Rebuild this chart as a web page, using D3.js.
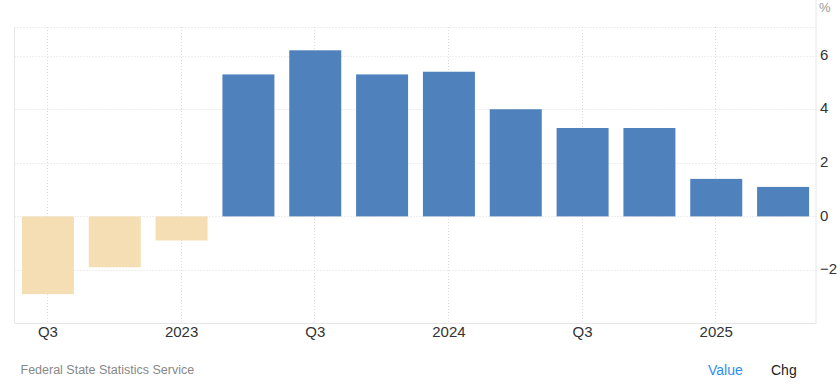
<!DOCTYPE html>
<html>
<head>
<meta charset="utf-8">
<script src="https://cdn.jsdelivr.net/npm/d3@7"></script>
<style>
  html, body { margin: 0; padding: 0; background: #fff; }
  svg { display: block; font-family: "Liberation Sans", Arial, sans-serif; }
</style>
</head>
<body>
<svg id="chart" width="840" height="387"></svg>
<script>
const categories = ["Q3 2022","Q4 2022","Q1 2023","Q2 2023","Q3 2023","Q4 2023","Q1 2024","Q2 2024","Q3 2024","Q4 2024","Q1 2025","Q2 2025"];
const values = [-2.9, -1.9, -0.9, 5.3, 6.2, 5.3, 5.4, 4.0, 3.3, 3.3, 1.4, 1.1];
const xTickLabels = ["Q3", "", "2023", "", "Q3", "", "2024", "", "Q3", "", "2025", ""];
const yTicks = [-2, 0, 2, 4, 6];
const unitLabel = "%";
const sourceText = "Federal State Statistics Service";
const toggleLabels = ["Value", "Chg"];

(function () {
const svg = d3.select("#chart");
const pL = 14.5, pR = 816.5, pT = 27, pB = 323;

const x = d3.scaleBand().domain(categories).range([pL, pR]).paddingInner(0.222).paddingOuter(0.111);
const y = d3.scaleLinear().domain([-3.98, 7.07]).range([pB, pT]);

const g = svg.append("g");

// horizontal gridlines
g.selectAll("line.hg").data(yTicks.concat([7.07])).join("line")
  .attr("x1", pL).attr("x2", pR)
  .attr("y1", d => Math.round(y(d)) + 0.5).attr("y2", d => Math.round(y(d)) + 0.5)
  .attr("stroke", "#dcdcdc").attr("stroke-dasharray", "1,2");

// vertical gridlines at labeled ticks
const tickCats = categories.filter((c, i) => xTickLabels[i] !== "");
g.selectAll("line.vg").data(tickCats).join("line")
  .attr("x1", d => Math.round(x(d) + x.bandwidth() / 2) - 0.5)
  .attr("x2", d => Math.round(x(d) + x.bandwidth() / 2) - 0.5)
  .attr("y1", pT).attr("y2", pB)
  .attr("stroke", "#dcdcdc").attr("stroke-dasharray", "1,2");

// bars
g.selectAll("rect.bar").data(categories).join("rect")
  .attr("x", d => x(d))
  .attr("width", x.bandwidth())
  .attr("y", (d, i) => y(Math.max(0, values[i])))
  .attr("height", (d, i) => Math.abs(y(values[i]) - y(0)))
  .attr("fill", (d, i) => values[i] < 0 ? "#f5deb3" : "#4f81bd");

// frame lines
g.append("line").attr("x1", pL).attr("x2", pL).attr("y1", pT).attr("y2", pB)
  .attr("stroke", "#e6e6e6");
g.append("line").attr("x1", pR - 0.5).attr("x2", pR - 0.5).attr("y1", 0).attr("y2", pB)
  .attr("stroke", "#e6e6e6");
g.append("line").attr("x1", pL).attr("x2", pR).attr("y1", pB + 0.5).attr("y2", pB + 0.5)
  .attr("stroke", "#e6e6e6");

// right axis labels
const yAxis = d3.axisRight(y).tickValues(yTicks).tickSize(0).tickPadding(4).tickFormat(d3.format("d"));
const ya = svg.append("g").attr("transform", `translate(${pR - 0.5},0)`).call(yAxis);
ya.select(".domain").remove();
ya.selectAll("text").attr("font-size", 15).attr("dy", "0.25em").attr("fill", "#333")
  .attr("font-family", "Liberation Sans, Arial, sans-serif");

svg.append("text").attr("x", 819).attr("y", 12).attr("font-size", 13).attr("fill", "#999").text(unitLabel);

// bottom axis labels
const xAxis = d3.axisBottom(x).tickSize(0).tickPadding(3).tickFormat((d, i) => xTickLabels[i]);
const xa = svg.append("g").attr("transform", `translate(0,${pB})`).call(xAxis);
xa.select(".domain").remove();
xa.selectAll("text").attr("font-size", 15).attr("fill", "#333")
  .attr("font-family", "Liberation Sans, Arial, sans-serif");

// footer
svg.append("text").attr("x", 20.5).attr("y", 373.5).attr("font-size", 12.5).attr("fill", "#888").text(sourceText);
svg.append("text").attr("x", 708).attr("y", 375).attr("font-size", 14).attr("fill", "#2f8ff0").text(toggleLabels[0]);
svg.append("text").attr("x", 771).attr("y", 375).attr("font-size", 14).attr("fill", "#222").text(toggleLabels[1]);
})();
</script>
</body>
</html>
